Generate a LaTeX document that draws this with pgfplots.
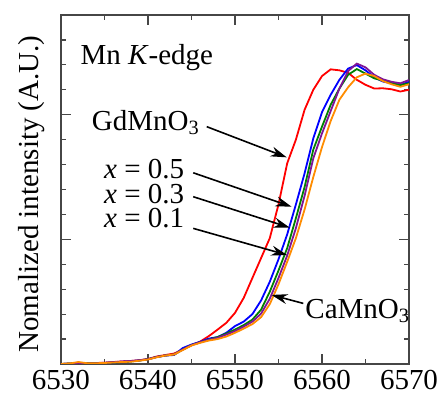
\documentclass[border=0pt]{standalone}
\usepackage{fontspec}
\setmainfont{Liberation Serif}
\usepackage{pgfplots}
\pgfplotsset{compat=1.18}
\usetikzlibrary{arrows.meta}
\definecolor{cred}{RGB}{255,0,0}
\definecolor{cblue}{RGB}{0,0,255}
\definecolor{cgreen}{RGB}{0,128,0}
\definecolor{cpurple}{RGB}{128,20,150}
\definecolor{corange}{RGB}{255,140,0}
\definecolor{axgray}{RGB}{70,70,70}
\newcommand{\ff}{\rmfamily\fontsize{14.5}{17}\selectfont}
\begin{document}
\ff
\begin{tikzpicture}
\useasboundingbox (-30.5pt,-15pt) rectangle (189.5pt,182pt);
\begin{axis}[
  at={(0,0)}, anchor=south west,
  scale only axis, width=174pt, height=174.5pt,
  xmin=6530, xmax=6570, ymin=0, ymax=1.4,
  xtick={6530,6540,...,6570}, minor xtick={6535,6545,...,6565},
  ytick={0,0.5,1.0}, minor ytick={0.1,0.2,...,1.35},
  yticklabels={},
  tick align=inside, tick pos=both,
  major tick length=5pt, minor tick length=2.6pt,
  every tick/.style={axgray, line width=0.6pt},
  axis line style={axgray, line width=0.7pt},
  /pgf/number format/assume math mode=true,
  /pgf/number format/1000 sep={},
  xticklabel style={font=\ff, yshift=1.8pt},
  ylabel={Nomalized intensity (A.U.)},
  y label style={at={(axis description cs:-0.045,0.487)}, rotate=0, anchor=south, inner sep=0pt, font=\ff},
  clip=true,
  every axis plot/.append style={line width=0.9pt, no marks},
]
\addplot[cred] coordinates {
(6530,0.000)(6531,0.002)(6532,0.004)(6533,0.003)(6534,0.004)(6535,0.005)(6536,0.008)(6537,0.010)(6538,0.012)(6539,0.015)
(6540,0.020)(6541,0.030)(6542,0.036)(6543,0.042)(6544,0.058)(6545,0.075)(6546,0.090)(6547,0.112)(6548,0.138)(6549,0.165)
(6550,0.205)(6551,0.265)(6552,0.345)(6553,0.425)(6554,0.505)(6555,0.640)(6556,0.805)(6557,0.900)(6558,1.020)(6559,1.100)
(6560,1.155)(6561,1.182)(6562,1.178)(6563,1.168)(6564,1.140)(6565,1.120)(6566,1.105)(6567,1.106)(6568,1.102)(6569,1.093)(6570,1.100)
};
\addplot[cblue] coordinates {
(6530,0.000)(6531,0.001)(6532,0.003)(6533,0.002)(6534,0.003)(6535,0.004)(6536,0.006)(6537,0.009)(6538,0.011)(6539,0.014)
(6540,0.019)(6541,0.028)(6542,0.034)(6543,0.036)(6544,0.064)(6545,0.078)(6546,0.089)(6547,0.102)(6548,0.108)(6549,0.125)
(6550,0.152)(6551,0.170)(6552,0.200)(6553,0.255)(6554,0.330)(6555,0.420)(6556,0.520)(6557,0.640)(6558,0.765)(6559,0.905)
(6560,1.010)(6561,1.080)(6562,1.140)(6563,1.185)(6564,1.199)(6565,1.178)(6566,1.150)(6567,1.133)(6568,1.126)(6569,1.119)(6570,1.132)
};
\addplot[cgreen] coordinates {
(6530,0.000)(6531,0.002)(6532,0.004)(6533,0.003)(6534,0.004)(6535,0.004)(6536,0.006)(6537,0.008)(6538,0.010)(6539,0.014)
(6540,0.019)(6541,0.028)(6542,0.034)(6543,0.038)(6544,0.058)(6545,0.076)(6546,0.087)(6547,0.098)(6548,0.108)(6549,0.122)
(6550,0.138)(6551,0.156)(6552,0.178)(6553,0.218)(6554,0.290)(6555,0.375)(6556,0.465)(6557,0.585)(6558,0.710)(6559,0.860)
(6560,0.952)(6561,1.040)(6562,1.105)(6563,1.160)(6564,1.183)(6565,1.165)(6566,1.146)(6567,1.137)(6568,1.128)(6569,1.119)(6570,1.126)
};
\addplot[cpurple] coordinates {
(6530,0.000)(6531,0.001)(6532,0.003)(6533,0.002)(6534,0.003)(6535,0.005)(6536,0.007)(6537,0.010)(6538,0.012)(6539,0.015)
(6540,0.019)(6541,0.028)(6542,0.034)(6543,0.038)(6544,0.058)(6545,0.076)(6546,0.087)(6547,0.097)(6548,0.105)(6549,0.118)
(6550,0.132)(6551,0.150)(6552,0.170)(6553,0.202)(6554,0.262)(6555,0.345)(6556,0.435)(6557,0.545)(6558,0.675)(6559,0.825)
(6560,0.925)(6561,1.015)(6562,1.105)(6563,1.175)(6564,1.205)(6565,1.190)(6566,1.160)(6567,1.142)(6568,1.132)(6569,1.126)(6570,1.139)
};
\addplot[corange] coordinates {
(6530,0.000)(6531,0.002)(6532,0.008)(6533,0.003)(6534,0.003)(6535,0.004)(6536,0.006)(6537,0.008)(6538,0.009)(6539,0.013)
(6540,0.018)(6541,0.027)(6542,0.034)(6543,0.038)(6544,0.056)(6545,0.074)(6546,0.085)(6547,0.094)(6548,0.100)(6549,0.110)
(6550,0.125)(6551,0.142)(6552,0.160)(6553,0.188)(6554,0.240)(6555,0.320)(6556,0.410)(6557,0.505)(6558,0.620)(6559,0.750)
(6560,0.870)(6561,0.975)(6562,1.060)(6563,1.110)(6564,1.150)(6565,1.165)(6566,1.155)(6567,1.135)(6568,1.122)(6569,1.112)(6570,1.122)
};
\node[anchor=base west, inner sep=0pt] at (axis cs:6532.2,1.203) {Mn \textit{K}-edge};
\node[anchor=base east, inner sep=0pt] at (axis cs:6546.0,0.936) {GdMnO\textsubscript{3}};
\node[anchor=base east, inner sep=0pt] at (axis cs:6544.2,0.745) {\textit{x} = 0.5};
\node[anchor=base east, inner sep=0pt] at (axis cs:6544.2,0.645) {\textit{x} = 0.3};
\node[anchor=base east, inner sep=0pt] at (axis cs:6544.2,0.547) {\textit{x} = 0.1};
\node[anchor=base west, inner sep=0pt] at (axis cs:6558.05,0.183) {CaMnO\textsubscript{3}};
\draw[line width=0.8pt, -{Stealth[length=8pt,width=5pt]}] (axis cs:6546.75,0.952) -- (axis cs:6555.94,0.829);
\draw[line width=0.8pt, -{Stealth[length=8pt,width=5pt]}] (axis cs:6545.2,0.767) -- (axis cs:6556.5,0.631);
\draw[line width=0.8pt, -{Stealth[length=8pt,width=5pt]}] (axis cs:6545.2,0.671) -- (axis cs:6556.3,0.547);
\draw[line width=0.8pt, -{Stealth[length=8pt,width=5pt]}] (axis cs:6545.2,0.544) -- (axis cs:6556.0,0.437);
\draw[line width=0.8pt, -{Stealth[length=8pt,width=5pt]}] (axis cs:6557.85,0.243) -- (axis cs:6554.2,0.277);
\end{axis}
\end{tikzpicture}
\end{document}
